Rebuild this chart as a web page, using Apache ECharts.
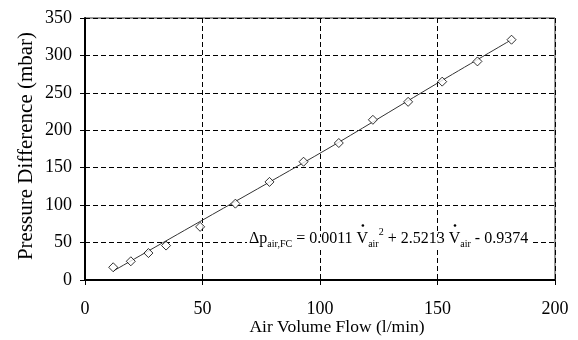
<!DOCTYPE html>
<html><head><meta charset="utf-8">
<script src="https://cdn.jsdelivr.net/npm/echarts@6/dist/echarts.min.js"></script>
<style>html,body{margin:0;padding:0;background:#fff}#c{width:578px;height:340px}</style>
</head><body><div id="c"></div>
<script>
// measured points
const flowValues = [12, 19.5, 27, 34.5, 49, 64, 78.5, 93, 108, 122.5, 137.5, 152, 167, 181.5];
const pressureValues = [17, 25, 36, 46, 71, 102, 131, 158, 183, 214, 238, 265, 292, 321];
// fitted trend line
const fitFlow = [12, 50, 87, 108, 150, 181.5];
const fitPressure = [12, 80, 146, 184, 263, 321];
const xTicks = [0, 50, 100, 150, 200];
const yTicks = [0, 50, 100, 150, 200, 250, 300, 350];
const xTitle = 'Air Volume Flow (l/min)';
const yTitle = 'Pressure Difference (mbar)';
// equation pieces: [text, kind]  m = main, s = subscript, p = superscript, V = dotted V
const eqPieces = [
  ['Δp', 'm'], ['air,FC', 's'], [' = 0.0011 ', 'm'], ['V', 'V'], ['air', 's'], ['2', 'p'],
  [' + 2.5213 ', 'm'], ['V', 'V'], ['air', 's'], [' - 0.9374', 'm']
];

const FONT = '"Liberation Serif", "Times New Roman", serif';
const chart = echarts.init(document.getElementById('c'), null, {renderer: 'canvas'});
const scatterData = flowValues.map((x, i) => [x, pressureValues[i]]);
const fitData = fitFlow.map((x, i) => [x, fitPressure[i]]);
const dash = {color: '#000', width: 1, type: [5, 3]};

// lay out equation pieces by measuring text widths
const kindStyle = {m: {size: 16, y: 239}, V: {size: 16, y: 239}, s: {size: 10, y: 244}, p: {size: 10, y: 232}};
const mctx = document.createElement('canvas').getContext('2d');
let cx = 249;
const eqGraphics = [];
eqPieces.forEach(([t, k]) => {
  const st = kindStyle[k];
  const font = st.size + 'px ' + FONT;
  mctx.font = font;
  const w = mctx.measureText(t).width;
  eqGraphics.push({type: 'text', x: cx, y: st.y, z: 11,
    style: {text: t, font: font, fill: '#000', align: 'left', verticalAlign: 'middle'}});
  if (k === 'V') {
    eqGraphics.push({type: 'circle', z: 11, shape: {cx: cx + w / 2 + 0.5, cy: 225.5, r: 1.3}, style: {fill: '#000'}});
  }
  cx += w;
});

chart.setOption({
  animation: false,
  grid: {left: 85, right: 23, top: 18, bottom: 60, show: true, borderColor: '#333', borderWidth: 1},
  xAxis: {
    type: 'value', min: xTicks[0], max: xTicks[xTicks.length - 1], interval: 50,
    axisLine: {show: true, lineStyle: {color: '#000', width: 2}},
    axisTick: {show: true, length: 5, lineStyle: {color: '#000'}},
    axisLabel: {fontFamily: FONT, fontSize: 18, color: '#000', margin: 20},
    splitLine: {show: true, lineStyle: dash}
  },
  yAxis: {
    type: 'value', min: yTicks[0], max: yTicks[yTicks.length - 1], interval: 50,
    axisLine: {show: true, lineStyle: {color: '#000', width: 2}},
    axisTick: {show: true, length: 5, lineStyle: {color: '#000'}},
    axisLabel: {fontFamily: FONT, fontSize: 18, color: '#000', margin: 13},
    splitLine: {show: true, lineStyle: dash}
  },
  series: [
    {type: 'line', data: fitData, smooth: 0.3, symbol: 'none', lineStyle: {color: '#333', width: 1}, z: 3},
    {type: 'scatter', data: scatterData, symbol: 'diamond', symbolSize: 9,
     itemStyle: {color: '#fff', borderColor: '#000', borderWidth: 1}, z: 4}
  ],
  graphic: [
    {type: 'text', x: 337, y: 327, style: {text: xTitle, font: '17.5px ' + FONT, fill: '#000', align: 'center', verticalAlign: 'middle'}},
    {type: 'text', x: 26, y: 146, rotation: Math.PI / 2, style: {text: yTitle, font: '21px ' + FONT, fill: '#000', align: 'center', verticalAlign: 'middle'}},
    {type: 'rect', z: 10, shape: {x: 247, y: 237, width: cx - 245, height: 10}, style: {fill: '#fff'}},
    ...eqGraphics
  ]
});
</script></body></html>
